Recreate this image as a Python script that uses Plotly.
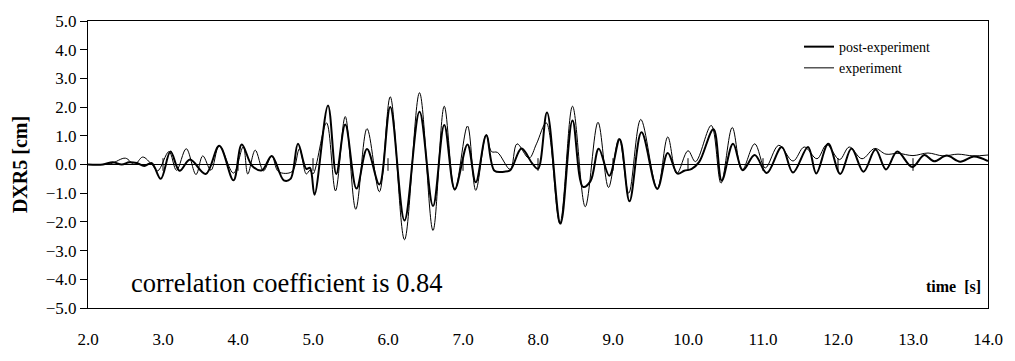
import plotly.graph_objects as go

# post-experiment (thick line): time [s], displacement [cm]
post_t = [2.00, 2.20, 2.33, 2.45, 2.55, 2.65, 2.75, 2.85, 2.97, 3.10, 3.22, 3.36, 3.57, 3.75, 3.94,
          4.05, 4.19, 4.32, 4.45, 4.61, 4.70, 4.80, 4.91, 4.96, 5.02, 5.20, 5.31, 5.43, 5.58, 5.72,
          5.885, 6.03, 6.22, 6.42, 6.60, 6.75, 6.89, 7.06, 7.17, 7.31, 7.42, 7.55, 7.63, 7.78, 7.92,
          8.00, 8.12, 8.30, 8.46, 8.60, 8.70, 8.81, 8.95, 9.09, 9.22, 9.38, 9.59, 9.73, 9.86, 9.95,
          10.05, 10.15, 10.34, 10.45, 10.60, 10.73, 10.89, 11.05, 11.25, 11.40, 11.60, 11.71, 11.87,
          12.03, 12.18, 12.34, 12.50, 12.64, 12.79, 12.99, 13.15, 13.28, 13.45, 13.63, 13.81, 14.00]
post_v = [0.00, 0.00, 0.08, 0.00, 0.08, 0.05, -0.05, 0.05, -0.50, 0.45, -0.22, 0.17, -0.33, 0.65, -0.55,
          0.70, -0.05, -0.20, 0.30, -0.55, -0.50, 0.72, -0.15, -0.12, -1.05, 2.06, -0.33, 1.39, -0.84, 0.54,
          -0.70, 2.00, -1.95, 1.84, -1.45, 1.38, -0.86, 0.70, -0.62, 1.02, -0.22, -0.25, -0.20, 0.56, 0.05,
          -0.15, 1.81, -2.06, 1.53, -0.78, -0.58, 0.55, -0.39, 0.88, -1.28, 1.12, -0.85, 0.40, -0.32, -0.22,
          -0.15, 0.09, 1.23, -0.56, 0.72, -0.20, 0.33, -0.30, 0.61, -0.28, 0.61, -0.31, 0.72,
          -0.33, 0.56, -0.25, 0.52, -0.17, 0.45, -0.09, 0.33, 0.11, 0.31, 0.10, 0.28, 0.12]

# experiment (thin line)
exp_t = [2.00, 2.30, 2.50, 2.62, 2.73, 2.85, 2.93, 3.08, 3.18, 3.31, 3.44, 3.53, 3.64, 3.75, 3.94,
         4.07, 4.13, 4.23, 4.34, 4.45, 4.54, 4.72, 4.82, 4.91, 4.96, 5.00, 5.18, 5.30, 5.43, 5.57,
         5.72, 5.885, 6.03, 6.22, 6.42, 6.60, 6.75, 6.89, 7.06, 7.17, 7.31, 7.38, 7.46, 7.63, 7.72,
         7.88, 7.98, 8.11, 8.29, 8.46, 8.63, 8.80, 8.94, 9.08, 9.21, 9.37, 9.59, 9.73, 9.85, 10.00,
         10.10, 10.31, 10.44, 10.59, 10.72, 10.89, 11.03, 11.21, 11.40, 11.55, 11.72, 11.85, 12.02,
         12.15, 12.32, 12.49, 12.64, 12.80, 13.00, 13.20, 13.40, 13.60, 13.80, 14.00]
exp_v = [0.00, 0.03, 0.22, 0.00, 0.26, 0.00, -0.22, 0.45, -0.20, 0.55, -0.35, 0.30, -0.20, 0.65, -0.30,
         0.62, -0.33, 0.50, -0.22, 0.30, -0.25, -0.25, 0.55, -0.33, -0.20, -0.33, 1.45, -0.92, 1.67, -1.56,
         1.25, -0.95, 2.36, -2.62, 2.50, -2.30, 2.03, -0.90, 1.34, -0.90, 1.04, 0.45, 0.42, -0.17, 0.72,
         0.22, 0.72, 1.45, -2.06, 2.03, -1.47, 1.47, -0.80, 0.91, -1.00, 1.57, -0.84, 0.96, -0.32, 0.48,
         0.10, 1.36, -0.65, 1.29, -0.20, 0.72, -0.12, 0.67, 0.12, 0.61, 0.20, 0.69, 0.17,
         0.61, 0.20, 0.56, 0.36, 0.39, 0.31, 0.40, 0.30, 0.36, 0.30, 0.33]

x_ticks = [2.0, 3.0, 4.0, 5.0, 6.0, 7.0, 8.0, 9.0, 10.0, 11.0, 12.0, 13.0, 14.0]
y_ticks = [-5.0, -4.0, -3.0, -2.0, -1.0, 0.0, 1.0, 2.0, 3.0, 4.0, 5.0]

FONT = "Liberation Serif"

fig = go.Figure()
fig.add_trace(go.Scatter(x=post_t, y=post_v, mode="lines", name="post-experiment",
                         line=dict(color="black", width=2, shape="spline", smoothing=1.0)))
fig.add_trace(go.Scatter(x=exp_t, y=exp_v, mode="lines", name="experiment",
                         line=dict(color="black", width=1, shape="spline", smoothing=1.0)))
# cross tick marks on the zero line
fig.add_trace(go.Scatter(x=x_ticks[1:-1], y=[0.0] * (len(x_ticks) - 2), mode="markers",
                         showlegend=False, hoverinfo="skip",
                         marker=dict(symbol="line-ns-open", size=9, color="black",
                                     line=dict(color="black", width=1))))

fig.update_layout(
    width=1015, height=361,
    margin=dict(l=88, r=20, t=20, b=42),
    paper_bgcolor="white", plot_bgcolor="white",
    font=dict(family=FONT, color="black", size=17),
    legend=dict(x=0.79, y=0.965, xanchor="left", yanchor="top",
                bgcolor="rgba(0,0,0,0)", font=dict(family=FONT, size=14, color="black"),
                tracegroupgap=0, itemwidth=30),
    showlegend=True,
)
fig.update_xaxes(range=[2, 14], tickvals=x_ticks, tickformat=".1f",
                 showline=True, linecolor="black", linewidth=1, mirror=True,
                 ticks="outside", ticklen=16, tickcolor="rgba(0,0,0,0)",
                 showgrid=False, zeroline=False,
                 tickfont=dict(family=FONT, size=17, color="black"))
fig.update_yaxes(range=[-5, 5], tickvals=y_ticks, tickformat=".1f",
                 showline=True, linecolor="black", linewidth=1, mirror=True,
                 ticks="outside", ticklen=7, tickcolor="black",
                 showgrid=False, zeroline=True, zerolinecolor="black", zerolinewidth=1,
                 tickfont=dict(family=FONT, size=17, color="black"),
                 title=dict(text="<b>DXR5 [cm]</b>", font=dict(family=FONT, size=20, color="black"),
                            standoff=12))

fig.add_annotation(x=0.046, y=0.087, xref="paper", yref="paper", xanchor="left", yanchor="middle",
                   text="correlation coefficient is 0.84", showarrow=False,
                   font=dict(family=FONT, size=26.5, color="black"))
fig.add_annotation(x=0.994, y=0.075, xref="paper", yref="paper", xanchor="right", yanchor="middle",
                   text="<b>time  [s]</b>", showarrow=False,
                   font=dict(family=FONT, size=16, color="black"))

fig.write_html("out.html", config={"displayModeBar": False},
               post_script="document.body.style.margin='0';")
